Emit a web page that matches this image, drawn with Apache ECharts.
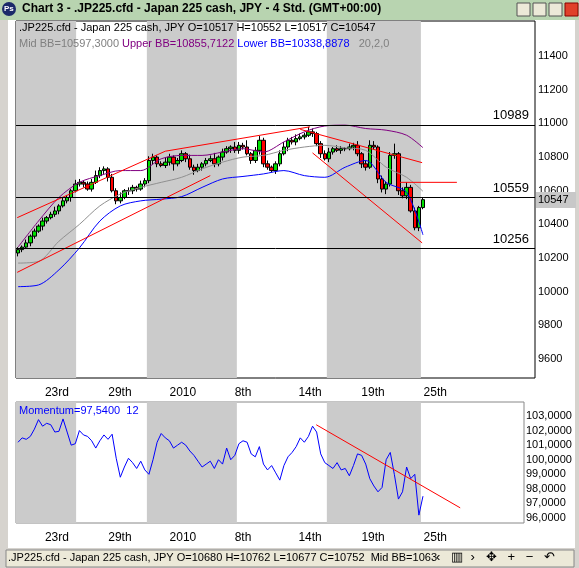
<!DOCTYPE html>
<html><head><meta charset="utf-8">
<script src="https://cdn.jsdelivr.net/npm/echarts@6/dist/echarts.min.js"></script>
<style>html,body{margin:0;padding:0;background:#d6d3ce}#main{width:579px;height:568px}</style>
</head><body><div id="main"></div>
<script>
// closes per 4h bar
const closes = [
  10250,10265,10290,10330,10360,10390,10420,10440,10460,10480,
  10510,10540,10560,10600,10640,10650,10640,10610,10650,10690,
  10720,10730,10680,10600,10540,10560,10600,10600,10620,10610,
  10640,10660,10780,10800,10760,10750,10770,10800,10760,10780,
  10820,10790,10740,10720,10740,10760,10780,10790,10760,10800,
  10830,10850,10860,10840,10870,10860,10820,10780,10840,10900,
  10760,10740,10720,10760,10820,10860,10900,10890,10910,10920,
  10930,10950,10940,10880,10820,10790,10830,10850,10840,10850,
  10850,10860,10870,10820,10760,10740,10870,10860,10670,10610,
  10640,10810,10820,10600,10570,10620,10480,10380,10500,10547
];
const firstOpen = 10230;
const wickUp = [
  15,10,20,10,15,10,20,10,15,25, 10,20,15,10,25,20,10,15,20,30,
  20,15,10,20,15,30,10,20,15,10, 20,15,25,20,10,15,30,20,10,15,
  20,10,25,15,20,10,15,20,35,10, 20,15,10,30,20,15,40,10,20,25,
  15,20,10,15,20,30,15,20,25,20, 15,30,20,10,15,20,25,10,20,15,
  10,20,15,25,10,20,30,25,10,20, 15,20,60,10,20,30,15,20,10,15
];
const wickDn = [
  20,15,10,20,15,10,25,15,10,15, 20,10,15,25,10,15,20,10,15,10,
  15,20,25,10,20,15,10,25,20,15, 10,20,15,25,20,10,15,20,40,15,
  10,20,15,25,10,20,15,10,20,15, 20,10,25,15,20,15,10,20,15,25,
  20,15,10,20,15,10,25,15,20,10, 15,10,20,15,25,10,20,15,10,20,
  15,10,20,15,25,20,10,15,25,20, 30,15,20,25,15,20,10,15,20,10
];
// bollinger bands, every 5 bars
const bbIdx   = [0,5,10,15,20,25,30,35,40,45,50,55,60,65,70,75,80,85,90,95,99];
const bbUpper = [10265,10420,10560,10650,10690,10720,10720,10790,10810,10810,10830,10850,10830,10890,10950,10985,10990,10970,10960,10930,10856];
const bbMid   = [10170,10180,10300,10400,10510,10580,10620,10650,10680,10730,10770,10800,10810,10840,10860,10870,10855,10840,10740,10680,10597];
const bbLower = [10030,10040,10130,10260,10420,10510,10540,10550,10565,10620,10670,10685,10700,10720,10690,10680,10740,10780,10650,10590,10338];
const momentum = [
  101.2,101.5,101.4,101.6,102.1,102.75,102.3,102.5,102.4,101.9,
  101.95,102.8,101.9,101.0,101.1,102.0,101.7,101.6,101.3,100.8,
  101.3,101.7,101.4,101.75,100.1,98.8,99.5,100.1,99.8,99.4,
  99.9,99.3,99.0,100.0,101.2,101.8,101.5,101.3,100.8,101.0,
  101.2,101.0,100.6,100.3,99.9,99.5,99.7,99.9,99.4,100.0,
  99.7,100.8,100.0,100.3,101.1,101.3,101.2,100.4,100.2,100.9,
  99.7,99.3,99.6,99.1,98.6,99.6,100.2,100.5,100.9,101.5,
  101.2,101.6,102.3,101.9,100.4,99.8,99.6,99.4,99.8,99.3,
  99.4,98.9,99.6,100.4,100.3,99.7,98.7,98.2,97.8,98.1,
  100.0,100.5,99.0,97.3,97.8,99.5,98.7,99.0,96.2,97.5
];
const trendLines = [
  [[-0.2,10440],[36,10835],[71.4,10980]],
  [[-0.2,10115],[47,10690]],
  [[69,10965],[98.8,10767]],
  [[72,10825],[98.8,10290]],
  [[93,10650],[107.3,10650]]
];
const momTrend = [[72.9,102.4],[108.1,96.7]];
const levels = [10989,10559,10256];
const priceTicks = [9600,9800,10000,10200,10400,10600,10800,11000,11200,11400];
const momTicks = [96,97,98,99,100,101,102,103];
const dateLabels = ['23rd','29th','2010','8th','14th','19th','25th'];
const datePos = [9.5,24.9,40.3,55,71.4,86.8,102];
const greyBands = [[-0.5,14.2],[31.5,53.5],[75.5,98.5]];

const candles = closes.map((c, i) => {
  const o = i === 0 ? firstOpen : closes[i - 1];
  return [i, o, c, Math.min(o, c) - wickDn[i], Math.max(o, c) + wickUp[i]];
});
const bandArea = greyBands.map(b => [{xAxis: b[0]}, {xAxis: b[1]}]);
const font = 'Liberation Sans';

const xCommon = (gi, max, margin) => ({
  type: 'value', gridIndex: gi, min: -0.5, max: max,
  splitLine: {show: false}, axisTick: {show: false},
  axisLine: {show: false},
  axisLabel: {
    customValues: datePos, margin: margin, color: '#000', fontFamily: font, fontSize: 12,
    formatter: v => dateLabels[datePos.indexOf(v)] || ''
  }
});

// overlay elements, drawn above the series
const overlay = [
  {type: 'circle', shape: {cx: 9, cy: 9, r: 7}, style: {fill: '#1c2a6a'}},
  {type: 'text', x: 4, y: 5, style: {text: 'Ps', fill: '#fff', font: 'bold 8px ' + font}},
  {type: 'text', x: 22, y: 3, style: {text: 'Chart 3 - .JP225.cfd - Japan 225 cash, JPY - 4 Std. (GMT+00:00)', fill: '#000', font: 'bold 12px ' + font}},
  {type: 'rect', shape: {x: 517, y: 3, width: 13, height: 13}, style: {fill: '#ece9d8', stroke: '#555'}},
  {type: 'rect', shape: {x: 533, y: 3, width: 13, height: 13}, style: {fill: '#ece9d8', stroke: '#555'}},
  {type: 'rect', shape: {x: 549, y: 3, width: 13, height: 13}, style: {fill: '#ece9d8', stroke: '#555'}},
  {type: 'rect', shape: {x: 565, y: 3, width: 13, height: 13}, style: {fill: '#e0402a', stroke: '#800'}},
  {type: 'text', x: 19, y: 22, style: {text: '.JP225.cfd - Japan 225 cash, JPY O=10517 H=10552 L=10517 C=10547', fill: '#000', font: '11px ' + font}},
  {type: 'text', x: 19, y: 38, style: {
    text: '{g|Mid BB=10597,3000 }{p|Upper BB=10855,7122 }{b|Lower BB=10338,8878 }{g|  20,2,0}',
    font: '11px ' + font,
    rich: {g: {fill: '#808080', font: '11px ' + font}, p: {fill: '#800080', font: '11px ' + font}, b: {fill: '#0000ff', font: '11px ' + font}}}},
  {type: 'rect', shape: {x: 536, y: 192, width: 40, height: 16}, style: {fill: '#c8c8c8'}},
  {type: 'text', x: 538, y: 194, style: {text: '10547', fill: '#000', font: '11px ' + font}},
  {type: 'text', x: 19, y: 405, style: {text: 'Momentum=97,5400  12', fill: '#0000ff', font: '11px ' + font}},
  {type: 'rect', shape: {x: 6, y: 550, width: 568, height: 17}, style: {fill: '#ece9d8', stroke: '#888'}},
  {type: 'text', x: 8, y: 552, style: {text: '.JP225.cfd - Japan 225 cash, JPY O=10680 H=10762 L=10677 C=10752  Mid BB=1063', fill: '#000', font: '11px ' + font}},
  {type: 'text', x: 436, y: 551, style: {text: '‹   ▥  ›   ✥   +   −   ↶', fill: '#000', font: '13px ' + font}}
].map(e => Object.assign(e, {z: 100, zlevel: 2}));

const chart = echarts.init(document.getElementById('main'));
chart.setOption({
  animation: false,
  backgroundColor: '#d6d3ce',
  grid: [
    {left: 16, top: 21, width: 519, height: 357, show: true, borderColor: '#000', borderWidth: 1, backgroundColor: '#fff'},
    {left: 16, top: 402, width: 508, height: 121, show: true, borderColor: '#888', borderWidth: 1, backgroundColor: '#fff'}
  ],
  xAxis: [xCommon(0, 126.4, 9), xCommon(1, 123.7, 9)],
  yAxis: [
    {type: 'value', gridIndex: 0, position: 'right', min: 9487, max: 11609,
     splitLine: {show: false}, axisLine: {show: false}, axisTick: {show: false},
     axisLabel: {customValues: priceTicks, margin: 3, color: '#000', fontFamily: font, fontSize: 11, formatter: v => String(v)}},
    {type: 'value', gridIndex: 1, position: 'right', min: 95.66, max: 103.96,
     splitLine: {show: false}, axisLine: {show: false}, axisTick: {show: false},
     axisLabel: {customValues: momTicks, margin: 2, color: '#000', fontFamily: font, fontSize: 11,
       formatter: v => v.toFixed(4).replace('.', ',')}}
  ],
  graphic: [
    {type: 'rect', shape: {x: 8, y: 20, width: 567, height: 528}, style: {fill: '#fff'}, z: -10},
    {type: 'rect', shape: {x: 0, y: 0, width: 579, height: 20}, style: {fill: '#b8d4b0'}, z: -10}
  ].concat(overlay),
  series: [
    {type: 'candlestick', xAxisIndex: 0, yAxisIndex: 0, barWidth: 4,
     data: candles,
     encode: {x: 0, y: [1, 2, 3, 4]},
     itemStyle: {color: '#00e000', color0: '#ff0000', borderColor: '#000', borderColor0: '#000', borderWidth: 1},
     markArea: {silent: true, itemStyle: {color: '#cbcbcb'}, data: bandArea},
     markLine: {silent: true, symbol: 'none',
       lineStyle: {color: '#000', width: 1, type: 'solid'},
       label: {position: 'insideEndTop', color: '#000', fontFamily: font, fontSize: 13, formatter: p => String(p.value), distance: [6, 3]},
       data: levels.map(v => ({yAxis: v}))}},
    {type: 'line', xAxisIndex: 0, yAxisIndex: 0, data: bbIdx.map((x, k) => [x, bbUpper[k]]), showSymbol: false, lineStyle: {color: '#800080', width: 1}, smooth: 0.3},
    {type: 'line', xAxisIndex: 0, yAxisIndex: 0, data: bbIdx.map((x, k) => [x, bbMid[k]]), showSymbol: false, lineStyle: {color: '#909090', width: 1}, smooth: 0.3},
    {type: 'line', xAxisIndex: 0, yAxisIndex: 0, data: bbIdx.map((x, k) => [x, bbLower[k]]), showSymbol: false, lineStyle: {color: '#0000ff', width: 1}, smooth: 0.3},
    ...trendLines.map(t => ({type: 'line', xAxisIndex: 0, yAxisIndex: 0, data: t, showSymbol: false, lineStyle: {color: '#ff0000', width: 1}})),
    {type: 'line', xAxisIndex: 1, yAxisIndex: 1, data: momentum.map((v, i) => [i, v]), showSymbol: false, lineStyle: {color: '#0000ff', width: 1},
     markArea: {silent: true, itemStyle: {color: '#cbcbcb'}, data: bandArea}},
    {type: 'line', xAxisIndex: 1, yAxisIndex: 1, data: momTrend, showSymbol: false, lineStyle: {color: '#ff0000', width: 1}}
  ]
});
</script></body></html>
